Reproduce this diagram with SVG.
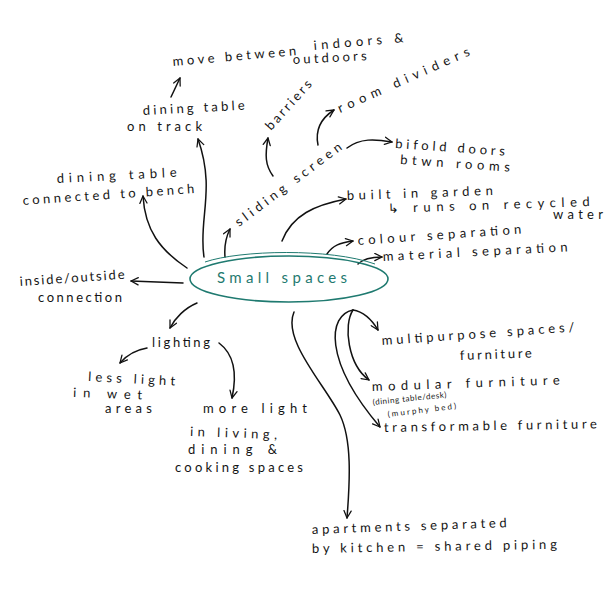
<svg xmlns="http://www.w3.org/2000/svg" width="614" height="595" viewBox="0 0 614 595">
<defs>
<marker id="ah" viewBox="0 0 10 10" refX="9" refY="5" markerWidth="9" markerHeight="9" markerUnits="userSpaceOnUse" orient="auto">
<path d="M1,1 L9,5 L1,9" fill="none" stroke="#111" stroke-width="1.4" stroke-linecap="round" stroke-linejoin="round"/>
</marker>
<style>
.t{font-family:"Lato","Noto Sans",sans-serif;font-size:13px;fill:#141414;}
.s{font-family:"Lato","Noto Sans",sans-serif;font-size:8px;fill:#141414;}
.c{fill:none;stroke:#111;stroke-width:1.5;stroke-linecap:round;}
.a{marker-end:url(#ah);}
.hub{font-family:"Lato","Noto Sans",sans-serif;font-size:15px;fill:#1f7a70;}
</style>
</defs>
<rect width="614" height="595" fill="#fff"/>

<g id="connectors">
<path class="c a" d="M183,283 L131,281"/>
<path class="c a" d="M187,268 C160,250 145,230 143,196"/>
<path class="c a" d="M204,257 C198,220 216,190 198,139"/>
<path class="c a" d="M171,97 L180,78"/>
<path class="c a" d="M273,176 C265,165 265,155 268,138"/>
<path class="c a" d="M225,257 C224,245 226,237 230,229"/>
<path class="c a" d="M318,145 C315,130 320,119 334,110"/>
<path class="c a" d="M347,148 C360,138 375,139 392,142"/>
<path class="c a" d="M282,241 C292,215 315,205 346,199"/>
<path class="c a" d="M327,254 C333,245 340,243 353,241"/>
<path class="c a" d="M358,264 C364,258 372,257 382,257"/>
<path class="c a" d="M197,303 C185,308 175,318 170,328"/>
<path class="c a" d="M147,348 C135,350 126,356 120,363"/>
<path class="c a" d="M219,343 C235,355 237,375 232,398"/>
<path class="c a" d="M294,312 C282,340 325,385 340,415 C352,440 350,480 347,518"/>
<path class="c a" d="M353,310 C365,312 372,320 378,330"/>
<path class="c a" d="M353,310 C343,325 348,365 369,380"/>
<path class="c a" d="M353,310 C328,315 323,360 380,427"/>
</g>

<g id="hub">
<ellipse cx="289" cy="279" rx="99" ry="23" fill="none" stroke="#1f7a70" stroke-width="1.6"/>
<path d="M205,262 C240,250 330,248 375,264" fill="none" stroke="#1f7a70" stroke-width="1"/>
<text class="hub" x="217" y="283" textLength="130" lengthAdjust="spacing">Small spaces</text>
</g>

<g id="move-between">
<text class="t" x="173" y="66" textLength="124" lengthAdjust="spacing" transform="rotate(-5 173 66)">move between</text>
<text class="t" x="314" y="50" textLength="90" lengthAdjust="spacing" transform="rotate(-5 314 50)">indoors &amp;</text>
<text class="t" x="293" y="64" textLength="74" lengthAdjust="spacing" transform="rotate(-3 293 64)">outdoors</text>
</g>

<g id="dining-track">
<text class="t" x="143" y="115" textLength="102" lengthAdjust="spacing" transform="rotate(-3 143 115)">dining table</text>
<text class="t" x="127" y="131" textLength="75" lengthAdjust="spacing">on track</text>
</g>

<g id="barriers">
<text class="t" x="271" y="131" textLength="62" lengthAdjust="spacing" transform="rotate(-48 271 131)">barriers</text>
</g>

<g id="room-dividers">
<text class="t" x="340" y="113" textLength="143" lengthAdjust="spacing" transform="rotate(-24 340 113)">room dividers</text>
</g>

<g id="sliding-screen">
<text class="t" x="239" y="227" textLength="130" lengthAdjust="spacing" transform="rotate(-37 239 227)">sliding screen</text>
</g>

<g id="bifold">
<text class="t" x="395" y="148" textLength="110" lengthAdjust="spacing" transform="rotate(4 395 148)">bifold doors</text>
<text class="t" x="400" y="164" textLength="110" lengthAdjust="spacing" transform="rotate(4 400 164)">btwn rooms</text>
</g>

<g id="garden">
<text class="t" x="347" y="200" textLength="146" lengthAdjust="spacing" transform="rotate(-2 347 200)">built in garden</text>
<text class="t" x="388" y="213" textLength="202" lengthAdjust="spacing" transform="rotate(-2 388 213)">↳ runs on recycled</text>
<text class="t" x="553" y="219" textLength="50" lengthAdjust="spacing">water</text>
</g>

<g id="colour-sep">
<text class="t" x="358" y="245" textLength="164" lengthAdjust="spacing" transform="rotate(-4 358 245)">colour separation</text>
</g>

<g id="material-sep">
<text class="t" x="383" y="261" textLength="185" lengthAdjust="spacing" transform="rotate(-3 383 261)">material separation</text>
</g>

<g id="dining-bench">
<text class="t" x="57" y="183" textLength="120" lengthAdjust="spacing" transform="rotate(-3 57 183)">dining table</text>
<text class="t" x="23" y="205" textLength="172" lengthAdjust="spacing" transform="rotate(-4 23 205)">connected to bench</text>
</g>

<g id="inside-outside">
<text class="t" x="20" y="286" textLength="105" lengthAdjust="spacing" transform="rotate(-4 20 286)">inside/outside</text>
<text class="t" x="38" y="302" textLength="84" lengthAdjust="spacing">connection</text>
</g>

<g id="lighting">
<text class="t" x="152" y="347" textLength="58" lengthAdjust="spacing">lighting</text>
</g>

<g id="less-light">
<text class="t" x="88" y="381" textLength="87" lengthAdjust="spacing" transform="rotate(3 88 381)">less light</text>
<text class="t" x="73" y="397" textLength="69" lengthAdjust="spacing" transform="rotate(2 73 397)">in wet</text>
<text class="t" x="105" y="413" textLength="47" lengthAdjust="spacing">areas</text>
</g>

<g id="more-light">
<text class="t" x="203" y="413" textLength="104" lengthAdjust="spacing">more light</text>
<text class="t" x="190" y="436" textLength="87" lengthAdjust="spacing" transform="rotate(2 190 436)">in living,</text>
<text class="t" x="188" y="454" textLength="89" lengthAdjust="spacing">dining &amp;</text>
<text class="t" x="175" y="472" textLength="128" lengthAdjust="spacing">cooking spaces</text>
</g>

<g id="multipurpose">
<text class="t" x="382" y="345" textLength="193" lengthAdjust="spacing" transform="rotate(-4 382 345)">multipurpose spaces/</text>
<text class="t" x="460" y="360" textLength="72" lengthAdjust="spacing" transform="rotate(-2 460 360)">furniture</text>
</g>

<g id="modular">
<text class="t" x="372" y="391" textLength="188" lengthAdjust="spacing" transform="rotate(-2 372 391)">modular furniture</text>
<text class="s" x="373" y="405" textLength="74" lengthAdjust="spacing" transform="rotate(-6 373 405)">(dining table/desk)</text>
<text class="s" x="388" y="417" textLength="69" lengthAdjust="spacing" transform="rotate(-7 388 417)">(murphy bed)</text>
</g>

<g id="transformable">
<text class="t" x="384" y="432" textLength="213" lengthAdjust="spacing" transform="rotate(-1 384 432)">transformable furniture</text>
</g>

<g id="apartments">
<text class="t" x="312" y="534" textLength="195" lengthAdjust="spacing" transform="rotate(-2 312 534)">apartments separated</text>
<text class="t" x="312" y="553" textLength="245" lengthAdjust="spacing" transform="rotate(-1 312 553)">by kitchen = shared piping</text>
</g>
</svg>
